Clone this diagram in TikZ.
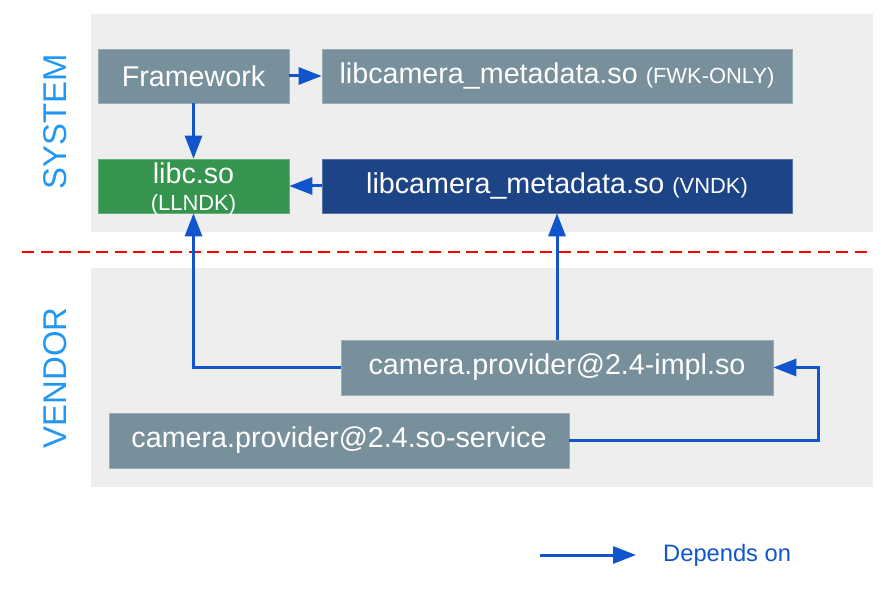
\documentclass[tikz,border=0pt]{standalone}
\usepackage{fontspec}
\setmainfont{Liberation Sans}
\usetikzlibrary{arrows.meta,calc}
\definecolor{panel}{HTML}{EEEEEE}
\definecolor{boxgray}{HTML}{78909C}
\definecolor{boxgreen}{HTML}{35954F}
\definecolor{boxblue}{HTML}{1E4488}
\definecolor{arrowblue}{HTML}{1155CC}
\definecolor{labelblue}{HTML}{2196F3}
\definecolor{dashred}{HTML}{FF0000}
\begin{document}
\begin{tikzpicture}[x=1bp,y=-1bp,
  lib/.style={rectangle, draw=#1!75!white, line width=0.6bp, fill=#1, text=white, inner sep=0pt,
    minimum height=54bp, align=center, font=\fontsize{28.8}{30}\selectfont},
  dep/.style={draw=arrowblue, line width=3bp, -{Triangle[length=23bp,width=17bp]}},
  section/.style={text=labelblue, rotate=90, font=\fontsize{33}{36}\selectfont, inner sep=0pt}
]
\useasboundingbox (0,0) rectangle (892,592);
% panels
\fill[panel] (91,14) rectangle (873,232);
\fill[panel] (91,268) rectangle (873,487);
% separator
\draw[dashred, line width=1.5bp, dash pattern=on 12bp off 6.5bp] (22,252) -- (873,252);
% section labels
\node[section] (sys) at (55.5,122) {SYSTEM};
\node[section] (ven) at (55.5,378) {VENDOR};
% nodes
\node[lib=boxgray, minimum width=191bp] (fw) at (193.5,76) {Framework};
\node[lib=boxgray, minimum width=470bp] (fwk) at (557,76) {libcamera\_metadata.so {\fontsize{22}{24}\selectfont (FWK-ONLY)}};
\node[lib=boxgreen, minimum width=191bp, minimum height=54bp] (libc) at (193.5,186) {\raisebox{-11bp}[0pt][0pt]{\begin{tabular}{@{}c@{}}\fontsize{28.8}{28}\selectfont libc.so\\[-3bp]\fontsize{22}{24}\selectfont (LLNDK)\end{tabular}}};
\node[lib=boxblue, minimum width=470bp] (vndk) at (557,186) {libcamera\_metadata.so {\fontsize{22}{24}\selectfont (VNDK)}};
\node[lib=boxgray, minimum width=432bp, minimum height=55bp] (impl) at (557,367.5) {camera.provider@2.4-impl.so};
\node[lib=boxgray, minimum width=460bp, minimum height=55bp] (svc) at (339,440.5) {camera.provider@2.4.so-service};
% connectors
\draw[dep] (fw) -- (fwk);
\draw[dep] (fw) -- (libc);
\draw[dep] (vndk) -- (libc);
\draw[dep] (impl.west) -| (libc.south);
\draw[dep] (impl) -- (vndk);
\draw[dep] (svc.east) -| ($(impl.east)+(45,0)$) -- (impl.east);
% legend
\coordinate (la) at (540,555);
\coordinate (lb) at (636,555);
\draw[dep] (la) -- (lb);
\node[anchor=west, text=arrowblue, inner sep=0pt, font=\fontsize{23.8}{25}\selectfont] (lt) at (663,555) {Depends on};
\end{tikzpicture}
\end{document}
